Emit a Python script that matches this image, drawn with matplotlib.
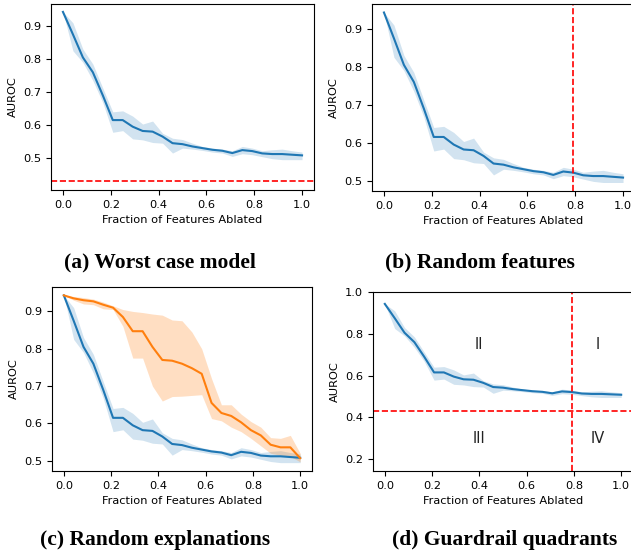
import matplotlib
matplotlib.use("Agg")
import matplotlib.pyplot as plt
import numpy as np

plt.rcParams['font.size'] = 8.2

# fraction of features ablated (25 steps)
frac = np.linspace(0, 1, 25)

# blue: importance-ordered ablation
auroc_mean = [0.943, 0.875, 0.805, 0.760, 0.690, 0.615, 0.615, 0.595, 0.582, 0.580,
              0.565, 0.545, 0.542, 0.535, 0.530, 0.525, 0.522, 0.515, 0.524, 0.521,
              0.514, 0.512, 0.512, 0.510, 0.508]
auroc_hi = [0.943, 0.910, 0.830, 0.785, 0.712, 0.640, 0.643, 0.627, 0.603, 0.612,
            0.575, 0.560, 0.556, 0.545, 0.535, 0.530, 0.527, 0.522, 0.535, 0.530,
            0.522, 0.525, 0.527, 0.522, 0.518]
auroc_lo = [0.943, 0.825, 0.790, 0.735, 0.668, 0.578, 0.583, 0.558, 0.555, 0.547,
            0.545, 0.515, 0.530, 0.527, 0.523, 0.518, 0.515, 0.505, 0.513, 0.510,
            0.504, 0.498, 0.495, 0.495, 0.495]

# orange: random explanations
rand_mean = [0.943, 0.935, 0.930, 0.927, 0.918, 0.910, 0.885, 0.847, 0.847, 0.805,
             0.770, 0.768, 0.760, 0.748, 0.733, 0.655, 0.628, 0.620, 0.603, 0.582,
             0.568, 0.543, 0.536, 0.536, 0.507]
rand_hi = [0.943, 0.940, 0.937, 0.933, 0.925, 0.915, 0.905, 0.900, 0.897, 0.893,
           0.890, 0.877, 0.875, 0.845, 0.800, 0.720, 0.650, 0.650, 0.625, 0.605,
           0.590, 0.562, 0.560, 0.568, 0.520]
rand_lo = [0.943, 0.930, 0.920, 0.918, 0.907, 0.905, 0.860, 0.775, 0.775, 0.700,
           0.660, 0.672, 0.673, 0.675, 0.677, 0.613, 0.607, 0.590, 0.578, 0.560,
           0.540, 0.520, 0.515, 0.512, 0.497]

worst_auroc = 0.43      # worst case model threshold
rand_feat_frac = 0.79   # random features threshold

captions = ["(a) Worst case model", "(b) Random features",
            "(c) Random explanations", "(d) Guardrail quadrants"]
quadrants = ["I", "II", "III", "IV"]

W, H = 631, 559
fig = plt.figure(figsize=(W / 100, H / 100), dpi=100)


def px_axes(left, top, right, bottom):
    return fig.add_axes([left / W, 1 - bottom / H, (right - left) / W, (bottom - top) / H])


def base(ax):
    ax.plot(frac, auroc_mean, color="C0", lw=1.5)
    ax.fill_between(frac, auroc_lo, auroc_hi, color="C0", alpha=0.2, lw=0)
    ax.set_xlabel("Fraction of Features Ablated")
    ax.set_ylabel("AUROC")
    ax.set_xticks([0.0, 0.2, 0.4, 0.6, 0.8, 1.0])


# (a)
ax = px_axes(51, 4, 314, 190)
base(ax)
ax.axhline(worst_auroc, color="red", ls="--", lw=1.2)
ax.set_ylim(0.403, 0.967)
ax.set_yticks([0.5, 0.6, 0.7, 0.8, 0.9])

# (b)
ax = px_axes(372, 4, 635, 191)
base(ax)
ax.axvline(rand_feat_frac, color="red", ls="--", lw=1.2)
ax.set_yticks([0.5, 0.6, 0.7, 0.8, 0.9])

# (c)
ax = px_axes(52, 287, 312, 471)
base(ax)
ax.plot(frac, rand_mean, color="C1", lw=1.5)
ax.fill_between(frac, rand_lo, rand_hi, color="C1", alpha=0.25, lw=0)
ax.set_yticks([0.5, 0.6, 0.7, 0.8, 0.9])

# (d)
ax = px_axes(373, 292, 633, 471)
base(ax)
ax.axhline(worst_auroc, color="red", ls="--", lw=1.2)
ax.axvline(rand_feat_frac, color="red", ls="--", lw=1.2)
ax.set_ylim(0.143, 1.0)
ax.set_yticks([0.2, 0.4, 0.6, 0.8, 1.0])
qx = [0.9, 0.4, 0.4, 0.9]
qy = [0.75, 0.75, 0.3, 0.3]
for lab, x, y in zip(quadrants, qx, qy):
    ax.text(x, y, lab, ha="center", va="center", fontsize=10.5, color="#222222")

# captions
cap_pos = [(160, 262), (480, 262), (155, 540), (505, 540)]
for txt, (x, y) in zip(captions, cap_pos):
    fig.text(x / W, 1 - y / H, txt, ha="center", va="center",
             fontfamily="Liberation Serif", fontweight="bold", fontsize=15.5)

fig.savefig("out.png", dpi=100)
